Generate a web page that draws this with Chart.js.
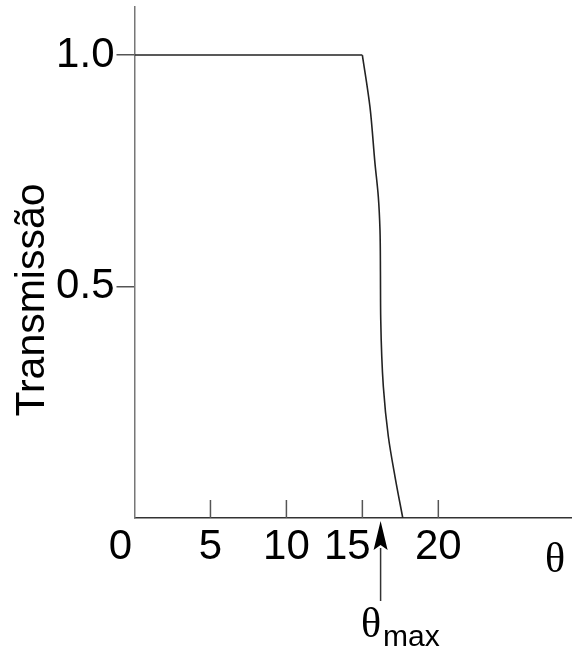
<!DOCTYPE html>
<html>
<head>
<meta charset="utf-8">
<script src="https://cdn.jsdelivr.net/npm/chart.js@4"></script>
<style>
html,body{margin:0;padding:0;background:#fff;}
#wrap{width:572px;height:653px;position:relative;}
</style>
</head>
<body>
<div id="wrap"><canvas id="c" width="572" height="653"></canvas></div>
<script>
// ---- data ----
const thetaVals = [0, 15.0, 15.5, 15.83, 16.05, 16.16, 16.19, 16.21, 16.38, 16.71, 17.15, 17.66];
const transVals = [1.0, 1.0, 0.888, 0.766, 0.694, 0.622, 0.53, 0.428, 0.284, 0.176, 0.089, 0.0];
const yTickVals = [0.5, 1.0];
const xTickVals = [5, 10, 15, 20];
const xLabelVals = [0, 5, 10, 15, 20];
const xLabelText = ['0', '5', '10', '15', '20'];
const thetaMax = 16.2;
const yTitle = 'Transmissão';
const xTitle = 'θ';
const markerLabel = 'θ';
const markerSub = 'max';

const SANS = '"Liberation Sans", Arial, Helvetica, sans-serif';
const SERIF = '"Liberation Serif", "Times New Roman", serif';
const xLabelShift = [-14, 0, 0, -15, 0];

const pts = thetaVals.map((t, i) => ({x: t, y: transVals[i]}));
const flatPts = pts.slice(0, 2);
const fallPts = pts.slice(1);

const annot = {
  id: 'annot',
  afterDraw(chart) {
    const ctx = chart.ctx;
    const xs = chart.scales.x;
    const area = chart.chartArea;
    const base = area.bottom;
    ctx.save();
    // inner x ticks
    ctx.strokeStyle = '#555';
    ctx.lineWidth = 1.5;
    xTickVals.forEach(v => {
      const px = xs.getPixelForValue(v);
      ctx.beginPath();
      ctx.moveTo(px, base);
      ctx.lineTo(px, base - 18);
      ctx.stroke();
    });
    // x labels
    ctx.fillStyle = '#000';
    ctx.font = '42px ' + SANS;
    ctx.textAlign = 'center';
    ctx.textBaseline = 'alphabetic';
    xLabelVals.forEach((v, i) => {
      ctx.fillText(xLabelText[i], xs.getPixelForValue(v) + xLabelShift[i], 559);
    });
    // x title
    ctx.font = '42px ' + SERIF;
    ctx.textAlign = 'left';
    ctx.fillText(xTitle, 545, 572);
    // y title
    ctx.save();
    ctx.translate(44, 300);
    ctx.rotate(-Math.PI / 2);
    ctx.font = '41px ' + SANS;
    ctx.textAlign = 'center';
    ctx.textBaseline = 'alphabetic';
    ctx.fillText(yTitle, 0, 0);
    ctx.restore();
    // arrow for theta max
    const ax = xs.getPixelForValue(thetaMax);
    ctx.strokeStyle = '#333';
    ctx.lineWidth = 1.5;
    ctx.beginPath();
    ctx.moveTo(ax, 548);
    ctx.lineTo(ax, 601);
    ctx.stroke();
    ctx.fillStyle = '#000';
    ctx.beginPath();
    ctx.moveTo(ax, 521);
    ctx.lineTo(ax + 7, 550);
    ctx.lineTo(ax, 545);
    ctx.lineTo(ax - 7, 550);
    ctx.closePath();
    ctx.fill();
    // theta max label
    ctx.font = '42px ' + SERIF;
    ctx.textAlign = 'left';
    ctx.fillText(markerLabel, 361, 637);
    ctx.font = '30px ' + SANS;
    ctx.fillText(markerSub, 383, 646);
    ctx.restore();
  }
};

new Chart(document.getElementById('c'), {
  type: 'line',
  data: {
    datasets: [{
      data: flatPts,
      borderColor: '#222',
      borderWidth: 1.6,
      pointRadius: 0,
      tension: 0,
      fill: false
    }, {
      data: fallPts,
      borderColor: '#222',
      borderWidth: 1.6,
      pointRadius: 0,
      cubicInterpolationMode: 'monotone',
      fill: false
    }]
  },
  options: {
    indexAxis: 'y',
    responsive: false,
    animation: false,
    devicePixelRatio: 1,
    layout: {padding: {top: 7, right: 0, left: 0, bottom: 0}},
    plugins: {legend: {display: false}, tooltip: {enabled: false}},
    scales: {
      x: {
        type: 'linear',
        min: 0,
        max: 28.8,
        grid: {display: false},
        ticks: {display: false},
        border: {display: true, color: '#333', width: 1.5},
        afterFit(s) { s.height = 135; s.paddingLeft = 0; s.paddingRight = 0; }
      },
      y: {
        type: 'linear',
        min: 0,
        max: 1.1037,
        afterBuildTicks(s) { s.ticks = yTickVals.map(v => ({value: v})); },
        grid: {display: true, drawOnChartArea: false, drawTicks: true, tickLength: 18, color: '#555', lineWidth: 1.5},
        ticks: {
          color: '#000',
          font: {family: SANS, size: 42},
          padding: 2,
          callback: v => Number(v).toFixed(1)
        },
        border: {display: true, color: '#777', width: 1.5},
        afterFit(s) { s.width = 134.5; s.paddingTop = 0; s.paddingBottom = 0; }
      }
    }
  },
  plugins: [annot]
});
</script>
</body>
</html>
